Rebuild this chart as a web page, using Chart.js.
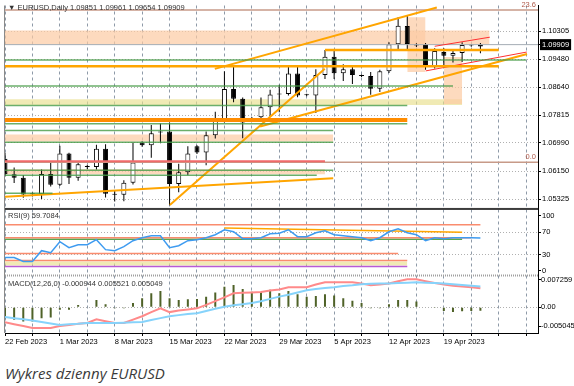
<!DOCTYPE html>
<html>
<head>
<meta charset="utf-8">
<script src="https://cdn.jsdelivr.net/npm/chart.js@4.4.1/dist/chart.umd.min.js"></script>
<style>
  html, body { margin: 0; padding: 0; background: #fff; }
  body { width: 574px; height: 386px; position: relative; overflow: hidden; }
  #wrap { position: absolute; left: 0; top: 0; width: 574px; height: 350px; }
  .lbl { position: absolute; font: 7.5px "Liberation Sans", Arial, sans-serif; color: #333; white-space: nowrap; }
  .caption { position: absolute; left: 5px; top: 363px; font: italic 15px "Open Sans", sans-serif; color: #3a3a3a; }
</style>
</head>
<body>
<div id="wrap"><canvas id="chart" width="574" height="350"></canvas></div>
<div class="lbl" style="left:8px;top:3px">▼ EURUSD,Daily 1.09851 1.09961 1.09654 1.09909</div>
<div class="lbl" style="left:8px;top:211px">RSI(9) 59.7084</div>
<div class="lbl" style="left:8px;top:279px">MACD(12,26,0) -0.000944 0.005521 0.005049</div>
<div class="caption">Wykres dzienny EURUSD</div>
<script>
// daily bars (broker shows short Sunday sessions too)
const dates = ["22 Feb 2023","23 Feb 2023","24 Feb 2023","26 Feb 2023","27 Feb 2023","28 Feb 2023",
  "1 Mar 2023","2 Mar 2023","3 Mar 2023","5 Mar 2023","6 Mar 2023","7 Mar 2023",
  "8 Mar 2023","9 Mar 2023","10 Mar 2023","12 Mar 2023","13 Mar 2023","14 Mar 2023",
  "15 Mar 2023","16 Mar 2023","17 Mar 2023","19 Mar 2023","20 Mar 2023","21 Mar 2023",
  "22 Mar 2023","23 Mar 2023","24 Mar 2023","26 Mar 2023","27 Mar 2023","28 Mar 2023",
  "29 Mar 2023","30 Mar 2023","31 Mar 2023","2 Apr 2023","3 Apr 2023","4 Apr 2023",
  "5 Apr 2023","6 Apr 2023","7 Apr 2023","9 Apr 2023","10 Apr 2023","11 Apr 2023",
  "12 Apr 2023","13 Apr 2023","14 Apr 2023","16 Apr 2023","17 Apr 2023","18 Apr 2023",
  "19 Apr 2023","20 Apr 2023","21 Apr 2023","23 Apr 2023","24 Apr 2023"];

const open = [1.0652,1.0606,1.0596,1.0548,1.0547,1.0607,1.0575,1.0668,1.0596,1.0630,
  1.0628,1.0682,1.0548,1.0545,1.0581,1.0700,1.0692,1.0730,1.0733,1.0577,
  1.0612,1.0689,1.0671,1.0722,1.0770,1.0859,1.0830,1.0772,1.0775,1.0805,
  1.0843,1.0844,1.0905,1.0842,1.0840,1.0901,1.0955,1.0906,1.0918,1.0898,
  1.0898,1.0860,1.0912,1.0992,1.1046,1.0988,1.0990,1.0927,1.0969,1.0958,
  1.0966,1.0988,1.09851];
const high = [1.0670,1.0626,1.0604,1.0552,1.0620,1.0645,1.0691,1.0670,1.0640,1.0634,
  1.0694,1.0695,1.0558,1.0588,1.0700,1.0704,1.0752,1.0757,1.0760,1.0637,
  1.0689,1.0692,1.0733,1.0792,1.0912,1.0928,1.0834,1.0776,1.0834,1.0857,
  1.0872,1.0925,1.0925,1.0845,1.0918,1.0975,1.0975,1.0933,1.0930,1.0902,
  1.0910,1.0916,1.0998,1.1072,1.1078,1.0995,1.0996,1.0980,1.0980,1.0978,
  1.0998,1.0992,1.09961];
const low = [1.0600,1.0580,1.0536,1.0540,1.0533,1.0570,1.0571,1.0577,1.0587,1.0622,
  1.0620,1.0537,1.0525,1.0526,1.0576,1.0688,1.0655,1.0698,1.0514,1.0553,
  1.0603,1.0666,1.0633,1.0712,1.0760,1.0820,1.0713,1.0768,1.0764,1.0780,
  1.0790,1.0840,1.0835,1.0838,1.0788,1.0889,1.0889,1.0883,1.0874,1.0895,
  1.0842,1.0850,1.0907,1.0977,1.0977,1.0984,1.0916,1.0920,1.0922,1.0938,
  1.0939,1.0985,1.09654];
const close = [1.0606,1.0596,1.0546,1.0547,1.0607,1.0575,1.0668,1.0596,1.0636,1.0628,
  1.0682,1.0548,1.0545,1.0581,1.0641,1.0692,1.0728,1.0730,1.0577,1.0612,
  1.0668,1.0671,1.0722,1.0771,1.0859,1.0830,1.0760,1.0770,1.0805,1.0843,
  1.0844,1.0905,1.0840,1.0841,1.0901,1.0955,1.0906,1.0918,1.0901,1.0900,
  1.0860,1.0912,1.0992,1.1047,1.0993,1.0991,1.0927,1.0972,1.0958,1.0966,
  1.0990,1.0989,1.09909];

const rsi = [24.3,24.3,17.1,17.1,36.9,33.3,53.2,42.3,47.7,47.7,
  56.8,38.7,36.9,44.1,55.0,60.4,64.0,64.0,42.3,45.9,
  55.0,56.8,60.4,65.8,74.8,71.2,58.6,58.6,60.4,67.6,
  68.5,74.8,62.2,62.2,69.4,73.0,65.8,64.0,62.2,60.4,
  55.0,60.4,71.2,76.6,69.4,65.8,55.0,60.4,58.6,60.4,
  60.4,60.4,59.7];

const macdHist = [-0.0029,-0.0033,-0.0038,-0.0038,-0.0029,-0.0027,-0.0007,-0.0007,0.0006,0.0001,
  0.0019,0.0008,-0.0003,-0.0003,0.0011,0.0024,0.0037,0.0043,0.0024,0.0019,
  0.0021,0.0022,0.0028,0.0039,0.0054,0.0059,0.0048,0.0041,0.0040,0.0046,
  0.0037,0.0043,0.0034,0.0028,0.0030,0.0034,0.0031,0.0024,0.0017,0.0011,
  -0.0003,-0.0003,0.0008,0.0019,0.0019,0.0015,0.0001,-0.0002,-0.0010,-0.0013,
  -0.0011,-0.0010,-0.000944];
const macdRed = [-0.0040,-0.0045,-0.0050,-0.0055,-0.0055,-0.0055,-0.0050,-0.0047,-0.0044,-0.0042,
  -0.0032,-0.0037,-0.0042,-0.0042,-0.0033,-0.0024,-0.0013,-0.0003,-0.0013,-0.0009,
  -0.0006,-0.0003,0.0006,0.0016,0.0026,0.0037,0.0038,0.0039,0.0040,0.0044,
  0.0047,0.0053,0.0053,0.0053,0.0060,0.0066,0.0066,0.0066,0.0066,0.0063,
  0.0058,0.0060,0.0063,0.0069,0.0074,0.0074,0.0069,0.0064,0.0060,0.0057,
  0.0055,0.0053,0.00505];
const macdBlue = [-0.0026,-0.0029,-0.0032,-0.0035,-0.0039,-0.0043,-0.0047,-0.0045,-0.0044,-0.0042,
  -0.0042,-0.0042,-0.0042,-0.0041,-0.0040,-0.0039,-0.0034,-0.0029,-0.0024,-0.0021,
  -0.0018,-0.0016,-0.0010,-0.0004,0.0001,0.0005,0.0008,0.0011,0.0016,0.0022,
  0.0028,0.0033,0.0039,0.0045,0.0048,0.0051,0.0053,0.0056,0.0058,0.0061,
  0.0062,0.0063,0.0063,0.0064,0.0065,0.0066,0.0065,0.0064,0.0063,0.0061,
  0.0059,0.0057,0.00552];

// axis labels
const priceTicks = [1.05325, 1.06150, 1.06990, 1.07815, 1.08640, 1.09480, 1.10305];
const bid = 1.09909;
const rsiTicks = [0, 30, 70, 100];
const macdTicks = [-0.005045, 0, 0.007259];

// drawn objects: [fromBar, toBar, top, bottom] / [fromBar, toBar, price] / [bar1, p1, bar2, p2]
const peachZones = [[-1, 53, 1.1033, 1.0991], [44, 46, 1.1072, 1.0910], [48, 50, 1.0954, 1.0815],
  [-1, 35.9, 1.0724, 1.0703], [-1, 35, 1.0621, 1.0606]];
const yellowZones = [[-1, 50, 1.0829, 1.0812]];
const greenLevels = [[-1, 57, 1.0945], [-1, 49, 1.0868], [-1, 44, 1.0810], [-1, 44, 1.0756],
  [-1, 35.9, 1.0736], [-1, 35.9, 1.0701], [-1, 35.9, 1.0618], [-1, 34.1, 1.0603], [-1, 5.2, 1.0550]];
const orangeLevels = [[-1, 54, 1.0927], [35, 54, 1.0975]];
const darkOrangeLevels = [[-1, 44, 1.0767]];
const redLevels = [[-1, 35, 1.0645]];
const fibLevels = [[1.0642, "0.0"], [1.1094, "23.6"]];
const orangeTrends = [[0, 1.0539, 35.9, 1.0594], [18.03, 1.0515, 34.98, 1.0919],
  [27.9, 1.0748, 57.1, 1.0963], [22.95, 1.0919, 47.23, 1.1101]];
const redTrends = [[47.0, 1.0986, 53.03, 1.1013], [46.03, 1.0913, 57.08, 1.0969]];

const rsiSalmon = [[-1, 52, 83.8], [-1, 51, 60.4], [-1, 43, 31.5], [-1, 44, 19]];
const rsiGreen = [[-1, 50, 57.7]];
const rsiBand = [[-1, 44, 17.1, 9.9]];
const rsiPurple = [[-1, 44, 8.1]];
const rsiTrend = [[24, 77.8, 50, 70.3]];

const seg = (x0, y0, x1, y1) => [{ x: x0, y: y0 }, { x: x1, y: y1 }];
const line = (data, color, width, axis, order = 1) => ({
  type: "line", data, borderColor: color, borderWidth: width, pointRadius: 0,
  fill: false, tension: 0, yAxisID: axis, order
});
const zone = (z, color, axis) => ({
  type: "line", data: seg(z[0], z[2], z[1], z[2]), borderColor: "transparent", borderWidth: 0,
  backgroundColor: color, fill: { value: z[3] }, pointRadius: 0, yAxisID: axis, order: 30
});
const level = (l, color, width, axis) => line(seg(l[0], l[2], l[1], l[2]), color, width, axis);
const trend = (t, color, width, axis) => line(seg(t[0], t[1], t[2], t[3]), color, width, axis);

const PEACH = "rgba(252,202,162,0.7)";
const YELLOW = "rgba(232,222,140,0.65)";
const font = { family: "'Liberation Sans', Arial, sans-serif", size: 7.5 };

const datasets = [
  ...peachZones.map(z => zone(z, PEACH, "y")),
  ...yellowZones.map(z => zone(z, YELLOW, "y")),
  // wicks and bodies
  {
    type: "bar", yAxisID: "y", order: 10, grouped: false, barThickness: 1, inflateAmount: 0,
    backgroundColor: "#000", data: dates.map((d, i) => ({ x: i, y: [low[i], high[i]] }))
  },
  {
    type: "bar", yAxisID: "y", order: 9, grouped: false, barThickness: 5, inflateAmount: 0,
    minBarLength: 1, borderSkipped: false, borderWidth: 1, borderColor: "#000",
    backgroundColor: dates.map((d, i) => close[i] >= open[i] ? "#fff" : "#000"),
    data: dates.map((d, i) => ({ x: i, y: [open[i], close[i]] }))
  },
  line(seg(-1, bid, 60, bid), "#a4acb4", 1, "y", 2),
  ...fibLevels.map(f => line(seg(-1, f[0], 60, f[0]), "#c79a88", 1.5, "y", 2)),
  ...greenLevels.map(l => level(l, "rgba(70,155,70,0.8)", 1.5, "y")),
  ...redLevels.map(l => level(l, "#f06a6a", 2, "y")),
  ...darkOrangeLevels.map(l => level(l, "#ff8c00", 4, "y")),
  ...orangeLevels.map(l => level(l, "#ffa500", 2.5, "y")),
  ...orangeTrends.map(t => trend(t, "#ffa500", 2, "y")),
  ...redTrends.map(t => trend(t, "#ff3030", 1, "y")),

  // RSI panel
  ...rsiBand.map(z => zone(z, YELLOW, "yr")),
  ...rsiSalmon.map(l => level(l, "#fa8c6e", 1.5, "yr")),
  ...rsiGreen.map(l => level(l, "#5aa850", 1.5, "yr")),
  ...rsiPurple.map(l => level(l, "#b85bd6", 1.5, "yr")),
  ...rsiTrend.map(t => trend(t, "#ffa500", 1.5, "yr")),
  line(rsi.map((v, i) => ({ x: i, y: v })), "#3e9bf0", 1.5, "yr", 0),

  // MACD panel
  {
    type: "bar", yAxisID: "ym", order: 5, grouped: false, barThickness: 2, inflateAmount: 0,
    backgroundColor: "#4f6228", data: macdHist.map((v, i) => ({ x: i, y: v }))
  },
  line(macdBlue.map((v, i) => ({ x: i, y: v })), "#86d3fb", 2, "ym", 0),
  line(macdRed.map((v, i) => ({ x: i, y: v })), "#ff8a8a", 2, "ym", 0)
];

const panelLines = {
  id: "panelLines",
  afterDraw(chart) {
    const { ctx, chartArea: a, scales } = chart;
    ctx.save();
    ctx.fillStyle = "#8a8a8a";
    ctx.fillRect(a.left - 1, a.top, 1, a.bottom - a.top);
    ctx.fillStyle = "#3c3c3c";
    ctx.fillRect(a.left, scales.yr.top - 1, a.right - a.left, 2);
    ctx.strokeStyle = "#a0a0a0";
    ctx.lineWidth = 2;
    ctx.setLineDash([1, 1]);
    ctx.beginPath();
    ctx.moveTo(a.left, scales.ym.top);
    ctx.lineTo(a.right, scales.ym.top);
    ctx.stroke();
    ctx.setLineDash([]);
    ctx.font = "7.5px 'Liberation Sans', Arial, sans-serif";
    ctx.fillStyle = "#b05a4a";
    ctx.textAlign = "right";
    ctx.textBaseline = "bottom";
    fibLevels.forEach(([p, t]) => ctx.fillText(t, a.right - 2, scales.y.getPixelForValue(p) - 1));
    ctx.restore();
  }
};

const yAxis = (weight, min, max, ticks, fmt, extra = {}) => ({
  type: "linear", position: "right", stack: "panels", stackWeight: weight, min, max,
  afterBuildTicks: s => { s.ticks = ticks.map(v => ({ value: v })); },
  afterFit: s => { s.width = 36; },
  border: { display: true, color: "#000", width: 1, dash: [1, 2] },
  grid: { color: extra.gridColor || "#b0b0b0", tickLength: 3, tickColor: "#000", drawTicks: true },
  ticks: Object.assign({ autoSkip: false, font, color: "#000", padding: 1, callback: fmt }, extra.ticks || {})
});

new Chart(document.getElementById("chart"), {
  type: "line",
  data: { datasets },
  options: {
    responsive: false,
    animation: false,
    devicePixelRatio: 1,
    events: [],
    layout: { padding: { top: 3, left: 5, right: 0, bottom: 0 } },
    plugins: { legend: { display: false }, tooltip: { enabled: false } },
    scales: {
      x: {
        type: "linear", min: 0, max: 58.3, offset: false,
        afterBuildTicks: s => { s.ticks = []; for (let v = 0; v <= 57; v += 3) s.ticks.push({ value: v }); },
        afterFit: s => { s.height = 17; },
        border: { display: true, color: "#000", width: 1, dash: [3, 3] },
        grid: { color: "#8e9aa8", offset: false, tickLength: 3, tickColor: "#000" },
        ticks: {
          autoSkip: false, maxRotation: 0, align: "start", padding: 1, font, color: "#000",
          callback: v => (v % 6 === 0 && dates[v]) ? dates[v] : ""
        }
      },
      y: yAxis(205, 1.05031, 1.11071, priceTicks.concat([bid]), v => v.toFixed(5), {
        gridColor: c => c.tick && c.tick.value === bid ? "transparent" : "#b0b0b0",
        ticks: {
          color: c => c.tick && c.tick.value === bid ? "#fff" : "#000",
          showLabelBackdrop: c => !!(c.tick && c.tick.value === bid),
          backdropColor: "#000",
          backdropPadding: { x: 2, y: 1 }
        }
      }),
      yr: yAxis(67, -8.1, 112.6, rsiTicks, v => String(v), {
        gridColor: c => c.tick && (c.tick.value === 30 || c.tick.value === 70) ? "#b0b0b0" : "transparent"
      }),
      ym: yAxis(58, -0.00684, 0.00842, macdTicks, v => v === 0 ? "0.00" : v.toFixed(6), {
        gridColor: c => c.tick && c.tick.value === 0 ? "#b0b0b0" : "transparent",
        ticks: { padding: 0 }
      })
    }
  },
  plugins: [panelLines]
});
</script>
</body>
</html>
